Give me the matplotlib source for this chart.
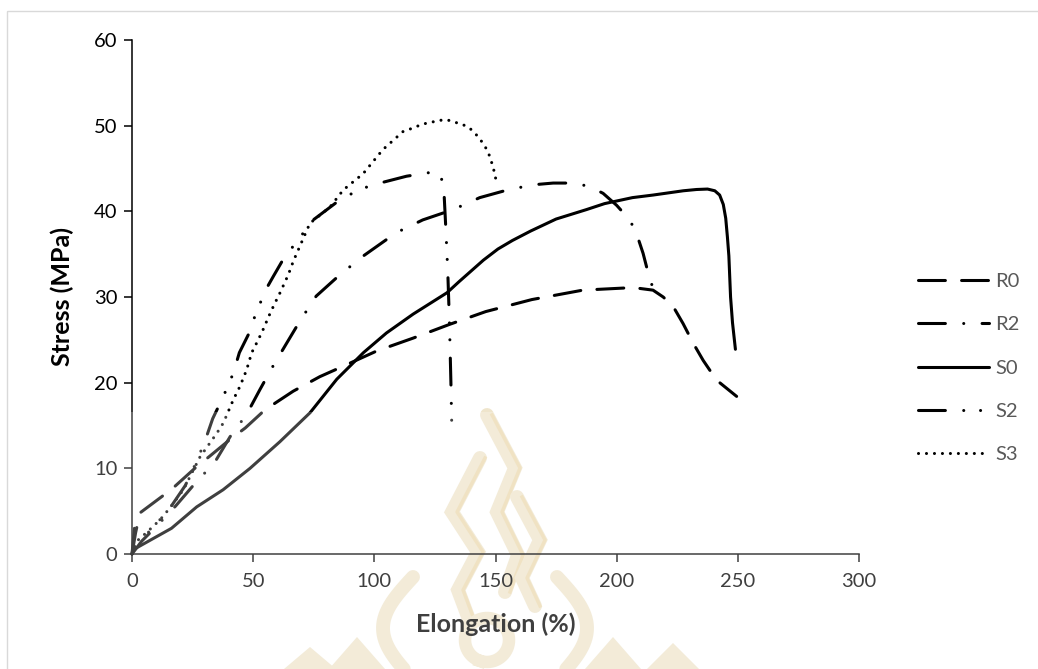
import numpy as np
import matplotlib
matplotlib.use("Agg")
import matplotlib.pyplot as plt
from matplotlib.patches import Rectangle, Polygon

# stress-strain curves, elongation (%) vs stress (MPa)
r0_x = [0, 1.5, 3.3, 12.3, 17.7, 26.7, 32, 41, 46.7, 54, 59, 66.5, 77.5, 87, 101, 116, 131,
        146, 165, 186, 206.8, 215, 219.2, 223.3, 227.4, 231.6, 235.7, 241.2, 249.5]
r0_y = [0, 2.5, 4.8, 6.7, 7.9, 10.2, 11.4, 13.5, 14.7, 16.6, 17.6, 19.0, 20.7, 21.9, 23.7, 25.2, 26.8,
        28.3, 29.7, 30.8, 31.1, 30.8, 30.0, 28.9, 26.9, 24.6, 22.6, 20.3, 18.4]

r2_x = [0, 4, 10, 18, 28, 33.5, 40.5, 47.3, 52.8, 57.7, 63.8, 69.3, 76, 85.8, 95.5, 109, 120,
        132.5, 143.5, 155, 165.6, 173.8, 182, 188.9, 194.4, 200, 205.4, 208.2, 210.9, 213, 215]
r2_y = [0, 1.5, 3.2, 5.6, 8.9, 10.4, 13.7, 16.3, 19.2, 21.7, 24.6, 27.2, 30.1, 32.6, 34.8, 37.5, 39.0,
        40.2, 41.6, 42.5, 43.1, 43.3, 43.3, 42.9, 42.1, 40.7, 39.0, 37.4, 35.1, 32.8, 31.0]

s0_x = [0, 0.5, 16.3, 26.7, 37.6, 48.7, 61, 73.5, 84.5, 95.5, 105, 116, 130, 135, 145, 151, 157,
        164.5, 175, 187.5, 195, 206.5, 215, 227.5, 233, 237.5, 240.5, 242.5, 244, 245, 245.7, 246.3,
        247, 247.8, 249]
s0_y = [0, 0.5, 3.0, 5.5, 7.5, 10, 13.1, 16.5, 20.4, 23.5, 25.8, 28, 30.5, 31.8, 34.3, 35.6, 36.6,
        37.7, 39.1, 40.2, 40.9, 41.6, 41.9, 42.4, 42.55, 42.6, 42.4, 41.9, 40.8, 39.2, 37, 34.8,
        30, 27, 23.9]

s2_x = [0, 1, 5, 10, 16, 22, 27, 30.5, 33.3, 37.7, 41.8, 44.3, 48, 51.4, 55.5, 58.3, 62.4, 74.8,
        87, 98.2, 113.3, 120.2, 124.3, 127, 128, 128.7, 129.5, 130.3, 131, 131.6, 132]
s2_y = [0, 3, 2, 3.5, 5.5, 8, 11, 13.5, 15.8, 18.4, 21.1, 23.5, 25.6, 28.3, 31, 32.4, 34.4, 39,
        41.6, 43, 44.1, 44.4, 44.6, 44.2, 43.6, 42.5, 38, 33, 27, 20, 14.3]

s3_x = [0, 2, 6, 11.6, 16, 21.2, 28, 35, 37.7, 41.8, 44.6, 47.3, 49.4, 52.1, 54.1, 57, 59, 61.1,
        64.5, 66.6, 73.4, 81.7, 87.2, 95.4, 103.5, 111.8, 114.7, 117.4, 120.2, 123.6, 126.4, 129.8,
        133.3, 136.7, 139.4, 142.2, 145, 147, 149, 150.5]
s3_y = [0, 1.5, 2.5, 4.0, 5.5, 7.5, 11.3, 14.1, 15.3, 18, 19.6, 21.5, 23.5, 25, 26.2, 28.1, 29.3, 30.5,
        32.6, 34.2, 38.6, 40.5, 42.5, 44.4, 47.2, 49.3, 49.6, 49.9, 50.2, 50.4, 50.6, 50.7,
        50.4, 50.1, 49.7, 48.9, 47.9, 46.9, 45.2, 43.3]

labels = ["R0", "R2", "S0", "S2", "S3"]
x_ticks = [0, 50, 100, 150, 200, 250, 300]
y_ticks = [0, 10, 20, 30, 40, 50, 60]

plt.rcParams['font.family'] = ['Lato', 'DejaVu Sans']

W, H = 1038, 669
fig = plt.figure(figsize=(W / 100, H / 100), dpi=100)

# faint logo in the background, drawn in pixel space
bg = fig.add_axes([0, 0, 1, 1], zorder=0)
bg.set_xlim(0, W)
bg.set_ylim(H, 0)
bg.axis('off')
pale = '#efe5cc'
gold = '#e9cf95'
flames = [
    [(487, 415), (515, 468), (497, 512), (518, 555), (505, 592)],
    [(480, 458), (452, 512), (478, 552), (458, 590), (470, 622)],
    [(517, 497), (540, 540), (522, 578), (535, 606)],
]
for f in flames:
    fx, fy = zip(*f)
    bg.plot(fx, fy, color=pale, lw=10, solid_capstyle='round', solid_joinstyle='miter')
    bg.plot(np.array(fx) + 5, fy, color=gold, lw=2.5, alpha=0.5)
t = np.linspace(0, 1, 30)
# outer drop outline
lx = 413 - 30 * np.sin(np.pi * t * 0.9)
ly = 577 + 92 * t
bg.plot(lx, ly, color=pale, lw=10, solid_capstyle='round')
bg.plot(2 * 485 - lx, ly, color=pale, lw=10, solid_capstyle='round')
ang = np.linspace(0.6 * np.pi, 2.6 * np.pi, 60)
bg.plot(487 + 22 * np.cos(ang), 640 + 22 * np.sin(ang), color=pale, lw=9)
for apex, half in [((357, 637), 28), ((310, 647), 26), ((613, 637), 28), ((673, 643), 26)]:
    bg.add_patch(Polygon([apex, (apex[0] - half, H), (apex[0] + half, H)],
                         closed=True, fc=pale, ec='none'))

ax = fig.add_axes([132 / W, 1 - 554 / H, (859 - 132) / W, (554 - 40) / H], zorder=1)
ax.patch.set_alpha(0)

lw = 2.2
styles = [
    (r0_x, r0_y, (0, (8.8, 5.3))),
    (r2_x, r2_y, (0, (8.8, 6, 0.01, 6))),
    (s0_x, s0_y, '-'),
    (s2_x, s2_y, (0, (8.8, 6, 0.01, 5.5, 0.01, 6))),
    (s3_x, s3_y, (0, (0.01, 2.6))),
]
for (xs, ys, ls), lab in zip(styles, labels):
    ax.plot(xs, ys, color='black', lw=lw, linestyle=ls, label=lab,
            dash_capstyle='round', solid_capstyle='round', solid_joinstyle='round',
            clip_on=False)

ax.set_xlim(0, 300)
ax.set_ylim(0, 60)
ax.set_xticks(x_ticks)
ax.set_yticks(y_ticks)
for s in ['top', 'right']:
    ax.spines[s].set_visible(False)
for s in ['left', 'bottom']:
    ax.spines[s].set_linewidth(1.1)
    ax.spines[s].set_color('black')
ax.tick_params(axis='both', direction='out', length=5.5, width=1.1, labelsize=14.5, colors='black')
ax.tick_params(axis='x', pad=8)
ax.tick_params(axis='y', pad=5)
ax.set_xlabel('Elongation (%)', fontsize=18, fontweight='bold', labelpad=16)
ax.set_ylabel('Stress (MPa)', fontsize=18, fontweight='bold', labelpad=14)

leg = fig.legend(loc='center left', bbox_to_anchor=(918 / W, 1 - 368 / H), frameon=False,
                 fontsize=14.5, handlelength=3.55, handletextpad=0.3, labelspacing=1.3,
                 borderpad=0, borderaxespad=0)
for txt in leg.get_texts():
    txt.set_color('#595959')

# light wash over the lower part and the chart area border
top = fig.add_axes([0, 0, 1, 1], zorder=3)
top.set_xlim(0, W)
top.set_ylim(H, 0)
top.axis('off')
top.add_patch(Rectangle((0, 412), 900, H - 412, fc='white', ec='none', alpha=0.25))
top.add_patch(Rectangle((7, 11), W + 20, H + 20, fc='none', ec='#d9d9d9', lw=1))

fig.savefig('out.png', dpi=100)
